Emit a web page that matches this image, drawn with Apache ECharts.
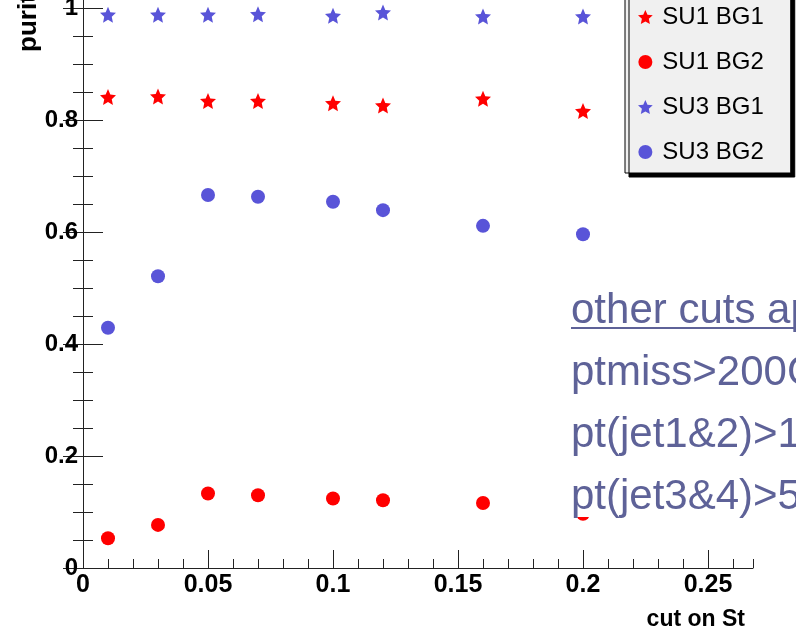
<!DOCTYPE html>
<html>
<head>
<meta charset="utf-8">
<script src="https://cdn.jsdelivr.net/npm/echarts@6/dist/echarts.min.js"></script>
<style>
  html, body { margin: 0; padding: 0; background: #fff; }
  #chart { width: 796px; height: 631px; }
</style>
</head>
<body>
<div id="chart"></div>
<script>
// purity vs cut on St, four samples
const cuts = [0.01, 0.03, 0.05, 0.07, 0.1, 0.12, 0.16, 0.2];
const su1Bg1 = [0.841, 0.842, 0.834, 0.834, 0.830, 0.826, 0.838, 0.816];
const su1Bg2 = [0.053, 0.077, 0.133, 0.130, 0.124, 0.121, 0.116, 0.097];
const su3Bg1 = [0.988, 0.988, 0.988, 0.989, 0.986, 0.992, 0.985, 0.985];
const su3Bg2 = [0.429, 0.521, 0.666, 0.663, 0.654, 0.639, 0.611, 0.596];
const seriesNames = ['SU1 BG1', 'SU1 BG2', 'SU3 BG1', 'SU3 BG2'];
const noteLines = ['other cuts applied', 'ptmiss>200GeV', 'pt(jet1&2)>150GeV', 'pt(jet3&4)>50GeV'];

const RED = '#ff0000';
const BLUE = '#5954d8';
const STAR = 'path://M50 0 L63.8 31.0 L97.55 34.55 L72.3 57.3 L79.39 90.45 L50 73.5 L20.61 90.45 L27.7 57.3 L2.45 34.55 L36.2 31.0 Z';
const FONT = 'Liberation Sans';

function pts(ys) {
  return cuts.map((c, i) => [c, ys[i]]);
}

const chart = echarts.init(document.getElementById('chart'));

const axisLine = { show: true, lineStyle: { color: '#222', width: 1 } };

chart.setOption({
  animation: false,
  grid: { left: 83, right: 43, top: -104, bottom: 63, containLabel: false, outerBoundsMode: 'none' },
  xAxis: [{
    type: 'value', min: 0, max: 0.268, interval: 0.05, position: 'bottom',
    axisLine: axisLine,
    axisTick: { inside: true, length: 18, lineStyle: { color: '#222' } },
    axisLabel: {
      showMaxLabel: false, margin: 5, color: '#000',
      fontFamily: FONT, fontWeight: 'bold', fontSize: 25,
      formatter: v => String(v)
    },
    splitLine: { show: false }
  }, {
    type: 'value', min: 0, max: 0.268, interval: 0.01, position: 'bottom', offset: 0,
    axisLine: { show: false },
    axisTick: { inside: true, length: 9, lineStyle: { color: '#222' } },
    axisLabel: { show: false },
    splitLine: { show: false }
  }],
  yAxis: [{
    type: 'value', min: 0, max: 1.2, interval: 0.2, position: 'left',
    axisLine: axisLine,
    axisTick: { inside: true, length: 20, lineStyle: { color: '#222' } },
    minorTick: { show: true, splitNumber: 4, length: 10, lineStyle: { color: '#222' } },
    axisLabel: {
      margin: 5, color: '#000',
      fontFamily: FONT, fontWeight: 'bold', fontSize: 24,
      formatter: v => String(+v.toFixed(1))
    },
    splitLine: { show: false }
  }, {
    type: 'value', min: 0, max: 1.2, interval: 0.2, position: 'right',
    axisLine: axisLine,
    axisTick: { inside: true, length: 20, lineStyle: { color: '#222' } },
    minorTick: { show: true, splitNumber: 4, length: 10, lineStyle: { color: '#222' } },
    axisLabel: { show: false },
    splitLine: { show: false }
  }],
  legend: {
    orient: 'vertical',
    left: 625, top: -10,
    padding: [14, 27, 8, 13],
    itemWidth: 24, itemHeight: 14, itemGap: 19,
    backgroundColor: '#f0f0f0',
    borderColor: '#000', borderWidth: 1,
    shadowColor: '#000', shadowBlur: 0, shadowOffsetX: 4, shadowOffsetY: 4,
    textStyle: { fontFamily: FONT, fontSize: 24, color: '#000', lineHeight: 26 },
    data: seriesNames
  },
  series: [
    { name: seriesNames[0], type: 'scatter', symbol: STAR, symbolSize: 16, itemStyle: { color: RED, opacity: 1 }, data: pts(su1Bg1) },
    { name: seriesNames[1], type: 'scatter', symbol: 'circle', symbolSize: 14, itemStyle: { color: RED, opacity: 1 }, data: pts(su1Bg2) },
    { name: seriesNames[2], type: 'scatter', symbol: STAR, symbolSize: 16, itemStyle: { color: BLUE, opacity: 1 }, data: pts(su3Bg1) },
    { name: seriesNames[3], type: 'scatter', symbol: 'circle', symbolSize: 14, itemStyle: { color: BLUE, opacity: 1 }, data: pts(su3Bg2) }
  ],
  graphic: [
    { type: 'rect', z: 100, shape: { x: 560, y: 271, width: 240, height: 246 }, style: { fill: '#fff' } },
    ...noteLines.map((t, i) => ({
      type: 'text', z: 101, x: 571, y: 311 + i * 62,
      style: { text: t, fill: '#5e6298', font: '42px "Liberation Sans"', align: 'left', verticalAlign: 'middle' }
    })),
    { type: 'line', z: 101, shape: { x1: 571, y1: 328, x2: 800, y2: 328 }, style: { stroke: '#5e6298', lineWidth: 2 } },
    {
      type: 'text', z: 101, x: 42, y: 52, rotation: Math.PI / 2,
      style: { text: 'purity', fill: '#000', font: 'bold 26px "Liberation Sans"', align: 'left', verticalAlign: 'bottom' }
    },
    {
      type: 'text', z: 101, x: 745, y: 620,
      style: { text: 'cut on St', fill: '#000', font: 'bold 23px "Liberation Sans"', align: 'right', verticalAlign: 'middle' }
    }
  ]
});
</script>
</body>
</html>
